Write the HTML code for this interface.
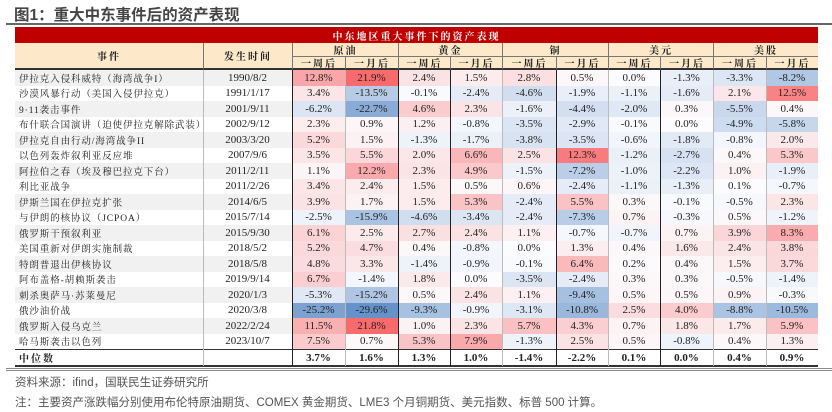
<!DOCTYPE html>
<html><head><meta charset="utf-8">
<style>
body{margin:0;width:832px;height:412px;background:#fff;position:relative;overflow:hidden;font-family:"Liberation Serif","Noto Serif CJK SC",serif;}
.a{position:absolute;box-sizing:border-box;}
.c{display:flex;align-items:center;justify-content:center;font-size:11px;color:#222;white-space:nowrap;}
.l{justify-content:flex-start;padding-left:4px;font-family:"Liberation Serif","Noto Serif CJK SC",serif;font-size:9.5px;letter-spacing:0.9px;overflow:hidden;}
.h{font-family:"Noto Serif CJK SC",serif;font-weight:bold;font-size:10px;letter-spacing:2px;}
</style></head><body>
<div class="a" style="left:14px;top:3px;font-family:'Liberation Sans','Noto Sans CJK SC',sans-serif;font-weight:bold;font-size:15.5px;color:#444;">图1：重大中东事件后的资产表现</div>
<div class="a" style="left:6px;top:23px;width:829px;height:2px;background:#666"></div>
<div id="t"></div>
<div class="a" style="left:6px;top:368px;width:829px;height:3px;border-top:1px solid #888;border-bottom:1px solid #888"></div>
<div class="a" style="left:15px;top:374px;font-family:'Liberation Sans','Noto Sans CJK SC',sans-serif;font-size:11.5px;color:#555">资料来源：ifind，国联民生证券研究所</div>
<div class="a" style="left:15px;top:394px;font-family:'Liberation Sans','Noto Sans CJK SC',sans-serif;font-size:11.5px;color:#555">注：主要资产涨跌幅分别使用布伦特原油期货、COMEX 黄金期货、LME3 个月铜期货、美元指数、标普 500 计算。</div>
<script>
var rows=[
["伊拉克入侵科威特（海湾战争I）","1990/8/2",12.8,21.9,2.4,1.5,2.8,0.5,0.0,-1.3,-3.3,-8.2],
["沙漠风暴行动（美国入侵伊拉克）","1991/1/17",3.4,-13.5,-0.1,-2.4,-4.6,-1.9,-1.1,-1.6,2.1,12.5],
["9·11袭击事件","2001/9/11",-6.2,-22.7,4.6,2.3,-1.6,-4.4,-2.0,0.3,-5.5,0.4],
["布什联合国演讲（迫使伊拉克解除武装）","2002/9/12",2.3,0.9,1.2,-0.8,-3.5,-2.9,-0.1,0.0,-4.9,-5.8],
["伊拉克自由行动/海湾战争II","2003/3/20",5.2,1.5,-1.3,-1.7,-3.8,-3.5,-0.6,-1.8,-0.8,2.0],
["以色列轰炸叙利亚反应堆","2007/9/6",3.5,5.5,2.0,6.6,2.5,12.3,-1.2,-2.7,0.4,5.3],
["阿拉伯之春（埃及穆巴拉克下台）","2011/2/11",1.1,12.2,2.3,4.9,-1.5,-7.2,-1.0,-2.2,1.0,-1.9],
["利比亚战争","2011/2/26",3.4,2.4,1.5,0.5,0.6,-2.4,-1.1,-1.3,0.1,-0.7],
["伊斯兰国在伊拉克扩张","2014/6/5",3.9,1.7,1.5,5.3,-2.4,5.5,0.3,-0.1,-0.5,2.3],
["与伊朗的核协议（JCPOA）","2015/7/14",-2.5,-15.9,-4.6,-3.4,-2.4,-7.3,0.7,-0.3,0.5,-1.2],
["俄罗斯干预叙利亚","2015/9/30",6.1,2.5,2.7,2.4,1.1,-0.7,-0.7,0.7,3.9,8.3],
["美国重新对伊朗实施制裁","2018/5/2",5.2,4.7,0.4,-0.8,0.0,1.3,0.4,1.6,2.4,3.8],
["特朗普退出伊核协议","2018/5/8",4.8,3.3,-1.4,-0.9,-0.1,6.4,0.2,0.4,1.5,3.7],
["阿布盖格-胡赖斯袭击","2019/9/14",6.7,-1.4,1.8,0.0,-3.5,-2.4,0.3,0.3,-0.5,-1.4],
["刺杀奥萨马·苏莱曼尼","2020/1/3",-5.3,-15.2,0.5,2.4,1.1,-9.4,0.5,0.5,0.9,-0.3],
["俄沙油价战","2020/3/8",-25.2,-29.6,-9.3,-0.9,-3.1,-10.8,2.5,4.0,-8.8,-10.5],
["俄罗斯入侵乌克兰","2022/2/24",11.5,21.8,1.0,2.3,5.7,4.3,0.7,1.8,1.7,5.9],
["哈马斯袭击以色列","2023/10/7",7.5,0.7,5.3,7.9,-1.3,2.5,0.5,-0.8,0.4,1.3]];
var med=["3.7%","1.6%","1.3%","1.0%","-1.4%","-2.2%","0.1%","0.0%","0.4%","0.9%"];
var xs=[15,203,292,345,398,450,502,556,608,660,713,766,818];
var ps=[22,22,14,14,14,14,12,12,15,15];
var ns=[32,32,18,18,18,18,12,12,18,18];
function col(v,c){var t;var r,g,b;
 if(v>=0){t=Math.min(v/ps[c],1);r=252-4*t;g=252-147*t;b=254-147*t;}else{t=Math.min(-v/ns[c],1);r=250-160*t;g=251-113*t;b=254-56*t;}
 return "rgb("+Math.round(r)+","+Math.round(g)+","+Math.round(b)+")";}
var h="";
function d(x,y,w,hh,st,cls,txt){h+='<div class="a '+(cls||'')+'" style="left:'+x+'px;top:'+y+'px;width:'+w+'px;height:'+hh+'px;'+(st||'')+'">'+(txt||'')+'</div>';}
d(15,27,803,16,"background:#c00000;color:#fff;","c h","中东地区重大事件下的资产表现");
d(15,43,803,27,"background:#fde9c9;");
d(15,43,188,27,"border-bottom:2px solid #333;","c h","事件");
d(203,43,89,27,"border-bottom:2px solid #333;border-left:1px solid #777;","c h","发生时间");
var names=["原油","黄金","铜","美元","美股"];
for(var i=0;i<5;i++){var x=xs[2+2*i];d(x,43,xs[4+2*i]-x,14,"border-left:1px solid #777;border-bottom:1px solid #777;","c h",names[i]);
 for(var j=0;j<2;j++){var x2=xs[2+2*i+j];d(x2,57,xs[3+2*i+j]-x2,13,"border-left:1px solid #777;border-bottom:2px solid #333;","c h",["一周后","一月后"][j]);}}
var rh=15.5,y0=70;
rows.forEach(function(r,k){var y=y0+k*rh;var bg=k%2==0?"#f1f1f1":"#fff";
 d(15,y,188,rh,"background:"+bg,"c l",r[0]);
 d(203,y,89,rh,"background:"+bg,"c",r[1]);
 for(var c=0;c<10;c++){var v=r[2+c];d(xs[2+c],y,xs[3+c]-xs[2+c],rh,"background:"+col(v,c),"c",v.toFixed(1)+"%");}
});
var ym=349;
d(15,ym,803,366-ym,"border-top:1.5px solid #333;");
d(15,ym,188,366-ym,"font-weight:bold;font-family:'Noto Serif CJK SC',serif;font-size:10px;letter-spacing:2px","c l","中位数");
for(var c=0;c<10;c++)d(xs[2+c],ym,xs[3+c]-xs[2+c],366-ym,"font-weight:bold","c",med[c]);
d(15,365,803,1.5,"background:#333");
var bl=[292,398,450,556,660];var gl=[203,345,502,608,713,766];
bl.forEach(function(x){d(x,70,1.3,296,"background:#222");});
gl.forEach(function(x){d(x,70,1,296,"background:#bbb");});
document.getElementById("t").innerHTML=h;
</script>
</body></html>
